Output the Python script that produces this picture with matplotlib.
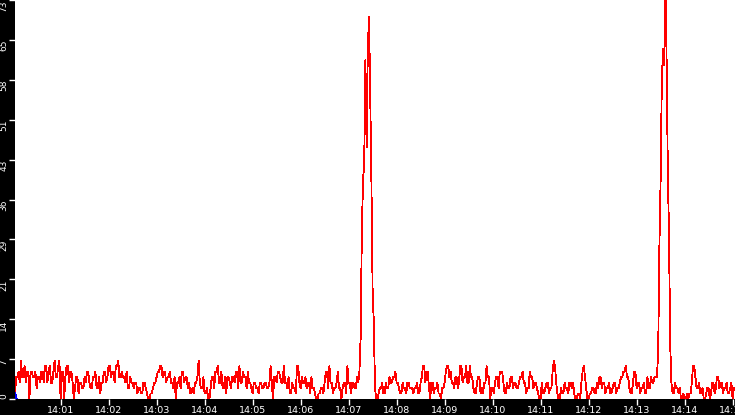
import datetime as dt
import numpy as np
import matplotlib
matplotlib.use("Agg")
import matplotlib.pyplot as plt
import matplotlib.dates as mdates

# samples every 1.5 s starting 14:00:03
start_time = dt.datetime(2024, 1, 1, 14, 0, 3)
step_s = 1.5

red_values = [
    1, 4, 4, 5, 3, 7, 4, 4, 6, 3, 5, 5, 0, 5, 5, 4, 4, 5, 2, 4, 4, 3, 5, 5, 3, 6, 6, 3, 5, 6,
    3, 3, 5, 7, 4, 4, 6, 7, 0, 5, 5, 0, 4, 6, 6, 3, 5, 5, 3, 0, 2, 4, 4, 1, 3, 3, 2, 2, 4, 3,
    5, 5, 3, 2, 2, 4, 4, 5, 2, 2, 4, 1, 3, 3, 5, 5, 3, 4, 6, 6, 4, 5, 5, 3, 6, 6, 7, 4, 4, 5,
    4, 4, 3, 5, 2, 2, 4, 3, 3, 2, 3, 3, 1, 2, 2, 1, 1, 3, 3, 2, 1, 0, 0, 1, 1, 2, 3, 3, 4, 5,
    5, 6, 6, 4, 5, 5, 3, 4, 4, 5, 3, 3, 2, 4, 0, 3, 3, 4, 2, 5, 5, 3, 4, 4, 2, 3, 1, 1, 2, 1,
    3, 3, 4, 7, 3, 2, 2, 4, 1, 1, 2, 0, 0, 2, 4, 4, 2, 5, 5, 6, 3, 3, 5, 2, 2, 4, 1, 4, 4, 3,
    2, 4, 4, 3, 5, 5, 2, 6, 3, 3, 5, 4, 4, 2, 5, 3, 3, 2, 1, 3, 3, 2, 2, 1, 3, 3, 2, 2, 3, 3,
    2, 2, 3, 6, 3, 0, 4, 4, 3, 5, 5, 4, 3, 3, 6, 3, 3, 2, 4, 1, 1, 3, 2, 2, 1, 6, 6, 3, 2, 4,
    3, 3, 4, 2, 3, 3, 1, 4, 2, 2, 1, 0, 0, 1, 1, 2, 2, 1, 3, 5, 5, 2, 6, 3, 3, 1, 2, 2, 3, 5,
    2, 2, 0, 2, 3, 3, 1, 6, 3, 3, 1, 3, 3, 2, 2, 4, 3, 5, 11, 30, 40, 43, 62, 46, 64, 70, 56, 40, 20, 14,
    2, 0, 0, 1, 2, 2, 3, 1, 1, 3, 2, 2, 4, 3, 3, 4, 4, 5, 3, 3, 2, 1, 1, 3, 2, 2, 1, 3, 3, 2,
    2, 2, 1, 2, 2, 3, 1, 1, 3, 4, 6, 6, 3, 5, 5, 2, 0, 3, 3, 1, 2, 2, 3, 1, 1, 0, 2, 2, 3, 5,
    6, 6, 4, 5, 3, 3, 2, 4, 4, 2, 3, 6, 6, 3, 4, 4, 6, 3, 3, 6, 4, 4, 2, 1, 1, 3, 4, 4, 1, 2,
    1, 3, 3, 6, 4, 4, 0, 2, 2, 1, 3, 4, 4, 2, 5, 5, 5, 3, 1, 1, 3, 2, 2, 4, 4, 2, 3, 3, 2, 2,
    3, 4, 4, 5, 3, 3, 1, 2, 2, 5, 4, 4, 2, 3, 3, 2, 1, 0, 0, 3, 1, 1, 2, 3, 3, 1, 2, 2, 5, 7,
    6, 3, 1, 0, 0, 2, 1, 1, 3, 2, 2, 1, 3, 3, 2, 3, 1, 0, 0, 1, 1, 0, 3, 5, 6, 4, 2, 0, 0, 1,
    1, 2, 2, 1, 1, 3, 2, 4, 4, 2, 3, 3, 1, 2, 2, 3, 1, 1, 2, 3, 3, 1, 2, 2, 3, 4, 4, 5, 5, 6,
    4, 4, 2, 1, 1, 3, 5, 5, 2, 3, 3, 1, 2, 2, 3, 1, 1, 4, 2, 2, 4, 3, 3, 4, 4, 4, 9, 28, 40, 58,
    64, 61, 78, 62, 42, 30, 10, 3, 1, 1, 3, 2, 2, 1, 2, 0, 0, 1, 0, 0, 1, 0, 1, 1, 3, 6, 6, 4, 2, 2,
    3, 1, 1, 2, 0, 0, 1, 2, 2, 0, 1, 3, 3, 1, 2, 4, 4, 2, 3, 3, 1, 2, 2, 3, 1, 1, 2, 3, 0, 2,
]
blue_values = [1, 0]

y_max = 73
y_ticks = [y_max * k / 10 for k in range(11)]
y_labels = [str(int(v)) for v in y_ticks]

red_times = [start_time + dt.timedelta(seconds=step_s * i) for i in range(len(red_values))]
blue_times = red_times[:len(blue_values)]
end_time = dt.datetime(2024, 1, 1, 14, 15, 3)

fig = plt.figure(figsize=(7.35, 4.15), dpi=100, facecolor="black")
ax = fig.add_axes([15 / 735, 16 / 415, 720 / 735, 399 / 415])
ax.set_facecolor("white")

ax.plot(red_times, red_values, color="#ff0000", lw=0.6, antialiased=False)
ax.plot(blue_times, blue_values, color="#0000ff", lw=1.2, antialiased=False)

ax.set_xlim(start_time, end_time)
ax.set_ylim(0, y_max)

for s in ax.spines.values():
    s.set_visible(False)

ax.xaxis.set_major_locator(mdates.MinuteLocator())
ax.xaxis.set_major_formatter(mdates.DateFormatter("%H:%M"))
ax.tick_params(axis="x", colors="white", length=4, width=1, pad=1, labelsize=6.8)

ax.set_yticks(y_ticks)
ax.set_yticklabels(y_labels)
ax.tick_params(axis="y", colors="white", length=4.3, width=1, pad=0.5, labelsize=6.5)
for i, lab in enumerate(ax.get_yticklabels()):
    lab.set_rotation(90)
    lab.set_va("bottom" if i == 0 else "top")

fig.savefig("out.png", dpi=100, facecolor="black")
